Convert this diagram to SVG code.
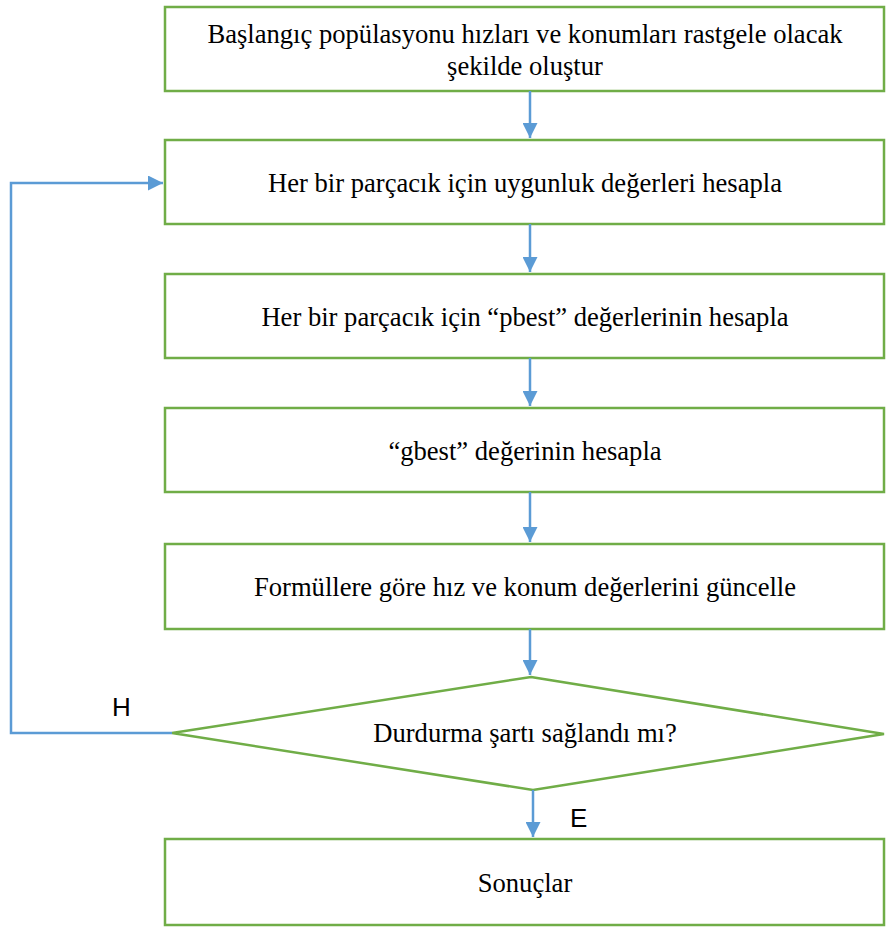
<svg xmlns="http://www.w3.org/2000/svg" width="886" height="927" viewBox="0 0 886 927">
<style>
.box{fill:#fff;stroke:#70AD47;stroke-width:2.5}
.t{font-family:"Liberation Serif","Times New Roman",serif;font-size:26.6px;fill:#000;text-anchor:middle}
.l{font-family:"Liberation Sans",Arial,sans-serif;font-size:26px;fill:#000}
.c{fill:none;stroke:#5B9BD5;stroke-width:2.5}
</style>
<defs>
<marker id="b" viewBox="0 0 10 10" refX="10" refY="5" markerWidth="15" markerHeight="15" markerUnits="userSpaceOnUse" orient="auto">
<path d="M0,0L10,5L0,10z" fill="#5B9BD5"/>
</marker>
</defs>
<g id="n1"><rect class="box" x="165" y="7" width="719" height="84"/>
<text class="t" x="525" y="43">Başlangıç popülasyonu hızları ve konumları rastgele olacak</text>
<text class="t" x="525" y="75">şekilde oluştur</text></g>
<g id="n2"><rect class="box" x="165" y="140" width="719" height="84"/>
<text class="t" x="525" y="192">Her bir parçacık için uygunluk değerleri hesapla</text></g>
<g id="n3"><rect class="box" x="165" y="274" width="719" height="84"/>
<text class="t" x="525" y="326">Her bir parçacık için “pbest” değerlerinin hesapla</text></g>
<g id="n4"><rect class="box" x="165" y="408" width="719" height="84"/>
<text class="t" x="525" y="460">“gbest” değerinin hesapla</text></g>
<g id="n5"><rect class="box" x="165" y="544" width="719" height="85"/>
<text class="t" x="525" y="596">Formüllere göre hız ve konum değerlerini güncelle</text></g>
<g id="n6"><polygon class="box" points="531,677 884,734 533,790 172,733"/>
<text class="t" x="525" y="742">Durdurma şartı sağlandı mı?</text></g>
<g id="n7"><rect class="box" x="165" y="839" width="719" height="86"/>
<text class="t" x="525" y="892">Sonuçlar</text></g>
<g id="connectors">
<line class="c" x1="530" y1="91" x2="530" y2="138" marker-end="url(#b)"/>
<line class="c" x1="530" y1="224" x2="530" y2="272" marker-end="url(#b)"/>
<line class="c" x1="530" y1="358" x2="530" y2="406" marker-end="url(#b)"/>
<line class="c" x1="530" y1="492" x2="530" y2="542" marker-end="url(#b)"/>
<line class="c" x1="530" y1="629" x2="530" y2="675" marker-end="url(#b)"/>
<line class="c" x1="533" y1="790" x2="533" y2="837" marker-end="url(#b)"/>
<polyline class="c" points="172,733 11,733 11,183 163,183" marker-end="url(#b)"/>
<text class="l" x="112" y="716">H</text>
<text class="l" x="570" y="827">E</text>
</g>
</svg>
